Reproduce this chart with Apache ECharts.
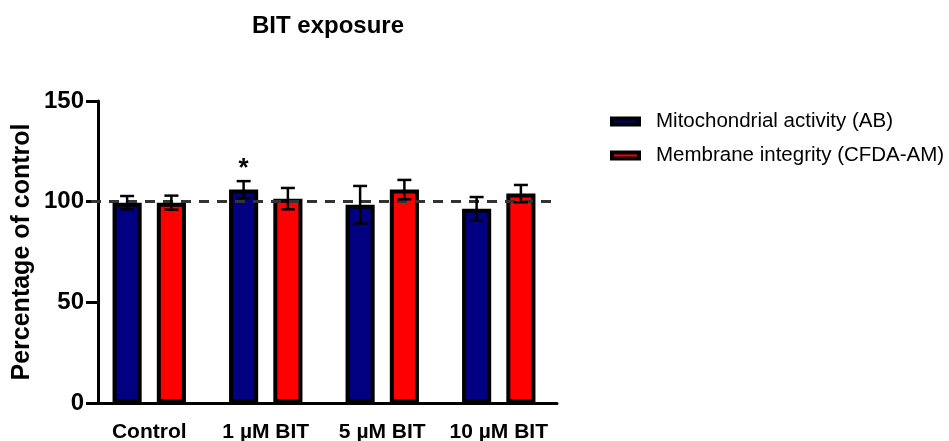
<!DOCTYPE html>
<html>
<head>
<meta charset="utf-8">
<script src="https://cdn.jsdelivr.net/npm/echarts@6/dist/echarts.min.js"></script>
<style>
  html, body { margin: 0; padding: 0; background: #fff; }
  #chart { width: 949px; height: 441px; }
</style>
</head>
<body>
<div id="chart"></div>
<script>
// Treatment groups along the x axis
const categories = ['Control', '1 µM BIT', '5 µM BIT', '10 µM BIT'];

// Mitochondrial activity (AB), % of control: mean and SD
const abMean = [99.5, 106, 98.5, 96.5];
const abSd = [3.3, 4.2, 9.3, 5.8];

// Membrane integrity (CFDA-AM), % of control: mean and SD
const cfdaMean = [99.5, 101.5, 106, 104];
const cfdaSd = [3.5, 5.3, 4.8, 4.3];

// Significance marks drawn above the AB error bars
const abSignificance = ['', '*', '', ''];

// Y axis ticks
const yTicks = [0, 50, 100, 150];

const FONT = '"Liberation Sans", Arial, sans-serif';
const BAR_FRACTION = 0.25;   // bar width as share of a category band
const BAR_GAP = 0.52;        // gap between the two bars, as share of bar width

function errorBarSeries(name, means, sds, side, marks) {
  return {
    name: name + ' SD',
    type: 'custom',
    z: 10,
    silent: true,
    data: means.map((m, i) => [i, m - sds[i], m + sds[i], marks ? marks[i] : '']),
    renderItem: function (params, api) {
      const band = api.size([1, 0])[0];
      const barW = band * BAR_FRACTION;
      const offset = side * (barW + barW * BAR_GAP) / 2;
      const lo = api.coord([api.value(0), api.value(1)]);
      const hi = api.coord([api.value(0), api.value(2)]);
      const x = lo[0] + offset;
      const cap = 7;
      const style = { stroke: '#000', lineWidth: 2.5, fill: null };
      const children = [
        { type: 'line', shape: { x1: x, y1: lo[1], x2: x, y2: hi[1] }, style: style },
        { type: 'line', shape: { x1: x - cap, y1: lo[1], x2: x + cap, y2: lo[1] }, style: style },
        { type: 'line', shape: { x1: x - cap, y1: hi[1], x2: x + cap, y2: hi[1] }, style: style }
      ];
      const mark = api.value(3);
      if (mark) {
        children.push({
          type: 'text',
          style: {
            text: mark, x: x, y: hi[1] + 1,
            align: 'center', verticalAlign: 'bottom',
            font: 'bold 26px ' + FONT, fill: '#000'
          }
        });
      }
      return { type: 'group', children: children };
    }
  };
}

const chart = echarts.init(document.getElementById('chart'));

chart.setOption({
  backgroundColor: '#fff',
  animation: false,
  title: {
    text: 'BIT exposure',
    left: 323,
    top: 9,
    textAlign: 'center',
    textStyle: { fontFamily: FONT, fontWeight: 'bold', fontSize: 24, color: '#000' }
  },
  legend: {
    orient: 'vertical',
    left: 605,
    top: 106,
    icon: 'rect',
    itemWidth: 27,
    itemHeight: 6,
    itemGap: 13,
    data: ['Mitochondrial activity (AB)', 'Membrane integrity (CFDA-AM)'],
    itemStyle: { borderColor: '#000', borderWidth: 4 },
    textStyle: { fontFamily: FONT, fontSize: 20.5, color: '#000', padding: [0, 0, 0, 12] }
  },
  grid: {
    left: 91, right: 392, top: 101, bottom: 38,
    containLabel: false,
    outerBoundsMode: 'none'
  },
  xAxis: {
    type: 'category',
    data: categories,
    axisLine: { lineStyle: { color: '#000', width: 3 } },
    axisTick: { alignWithLabel: true, length: 12, lineStyle: { color: '#000', width: 3 } },
    axisLabel: {
      interval: 0, hideOverlap: false,
      fontFamily: FONT, fontWeight: 'bold', fontSize: 21, color: '#000', margin: 19
    }
  },
  yAxis: {
    type: 'value',
    min: yTicks[0],
    max: yTicks[yTicks.length - 1],
    interval: yTicks[1] - yTicks[0],
    offset: -7,
    name: 'Percentage of control',
    nameLocation: 'middle',
    nameGap: 63,
    nameTextStyle: { fontFamily: FONT, fontWeight: 'bold', fontSize: 25, color: '#000' },
    splitLine: { show: false },
    axisLine: { show: true, lineStyle: { color: '#000', width: 3 } },
    axisTick: { show: true, length: 12, lineStyle: { color: '#000', width: 3 } },
    axisLabel: { fontFamily: FONT, fontWeight: 'bold', fontSize: 24, color: '#000', margin: 14 }
  },
  series: [
    {
      name: 'Mitochondrial activity (AB)',
      type: 'bar',
      barWidth: (BAR_FRACTION * 100) + '%',
      barGap: (BAR_GAP * 100) + '%',
      data: abMean,
      itemStyle: { color: '#000080', borderColor: '#000', borderWidth: 4 },
      markLine: {
        silent: true,
        symbol: 'none',
        label: { show: false },
        lineStyle: { color: '#333', type: [10, 8], width: 3 },
        data: [{ yAxis: 100 }]
      }
    },
    {
      name: 'Membrane integrity (CFDA-AM)',
      type: 'bar',
      barWidth: (BAR_FRACTION * 100) + '%',
      data: cfdaMean,
      itemStyle: { color: '#ff0000', borderColor: '#000', borderWidth: 4 }
    },
    errorBarSeries('Mitochondrial activity (AB)', abMean, abSd, -1, abSignificance),
    errorBarSeries('Membrane integrity (CFDA-AM)', cfdaMean, cfdaSd, 1, null)
  ]
});
</script>
</body>
</html>
